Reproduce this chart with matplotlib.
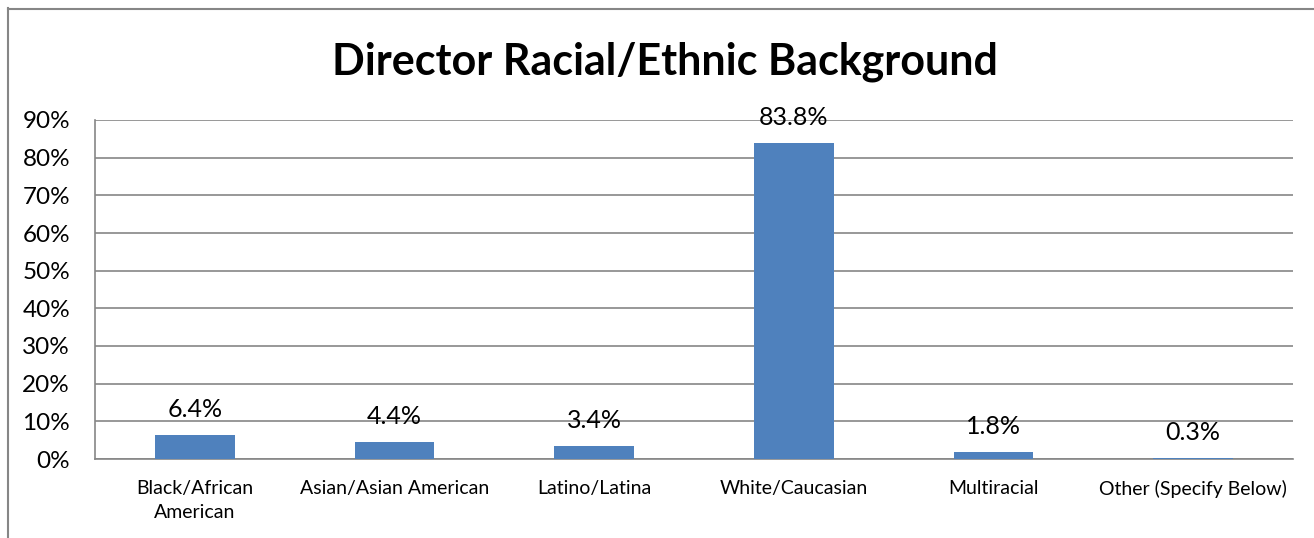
import matplotlib
matplotlib.use("Agg")
import matplotlib.pyplot as plt
from matplotlib.lines import Line2D

categories = ["Black/African\nAmerican", "Asian/Asian American", "Latino/Latina",
              "White/Caucasian", "Multiracial", "Other (Specify Below)"]
values = [6.4, 4.4, 3.4, 83.8, 1.8, 0.3]
labels = ["6.4%", "4.4%", "3.4%", "83.8%", "1.8%", "0.3%"]
yticks = [0, 10, 20, 30, 40, 50, 60, 70, 80, 90]
ytick_labels = [f"{t}%" for t in yticks]
title = "Director Racial/Ethnic Background"

plt.rcParams['font.family'] = ['Lato', 'DejaVu Sans']

fig = plt.figure(figsize=(13.14, 5.38), dpi=100)
ax = fig.add_axes([95/1314, 1-459/538, (1293-95)/1314, (459-120)/538])

x = list(range(len(categories)))
ax.bar(x, values, width=0.4, color="#4F81BD", zorder=3)
for xi, v, lab in zip(x, values, labels):
    ax.annotate(lab, (xi, v), xytext=(0, 18.5), textcoords="offset points",
                ha="center", va="center", fontsize=18, color="black", zorder=4)

ax.set_xlim(-0.5, len(categories) - 0.5)
ax.set_ylim(0, 90)
ax.set_yticks(yticks)
ax.set_yticklabels(ytick_labels, fontsize=17.5)
ax.set_xticks(x)
ax.set_xticklabels(categories, fontsize=14, linespacing=1.5, va="top")
ax.tick_params(axis="x", length=0, pad=15)
ax.tick_params(axis="y", length=0, pad=18)
ax.grid(axis="y", color="#868686", linewidth=1.2, zorder=0)
for s in ["top", "right"]:
    ax.spines[s].set_visible(False)
ax.spines["left"].set_color("#868686")
ax.spines["left"].set_linewidth(1.2)
ax.spines["bottom"].set_color("#868686")
ax.spines["bottom"].set_linewidth(1.2)

fig.text(665/1314, 1-62/538, title, ha="center", va="center", fontsize=31, fontweight="bold")

# outer chart border (left and top visible)
fig.add_artist(Line2D([7.5/1314, 7.5/1314], [0, 1-8/538], transform=fig.transFigure, color="#868686", linewidth=1.5))
fig.add_artist(Line2D([7.5/1314, 1], [1-8.5/538, 1-8.5/538], transform=fig.transFigure, color="#868686", linewidth=1.5))

fig.savefig("out.png", dpi=100)
